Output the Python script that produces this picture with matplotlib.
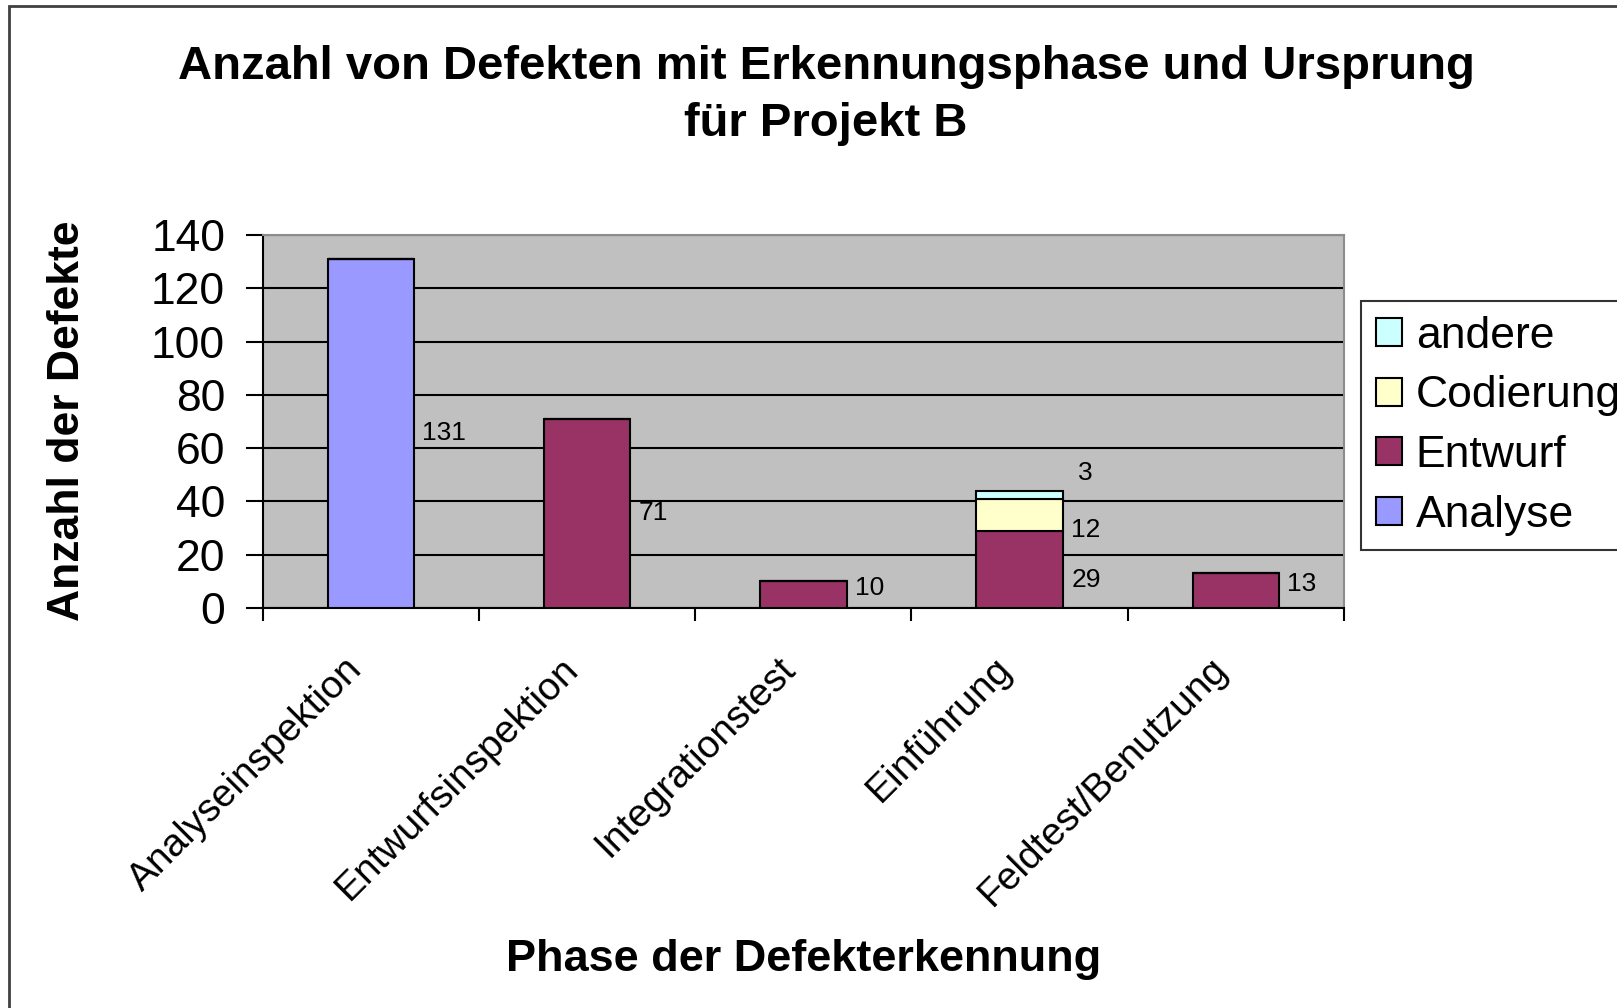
import matplotlib
matplotlib.use("Agg")
import matplotlib.pyplot as plt
import matplotlib.patches as mpatches
from matplotlib.transforms import ScaledTranslation
import numpy as np

plt.rcParams['font.family'] = ['Liberation Sans', 'DejaVu Sans']

categories = ["Analyseinspektion", "Entwurfsinspektion", "Integrationstest",
              "Einführung", "Feldtest/Benutzung"]
analyse = [131, 0, 0, 0, 0]
entwurf = [0, 71, 10, 29, 13]
codierung = [0, 0, 0, 12, 0]
andere = [0, 0, 0, 3, 0]
yticks = [0, 20, 40, 60, 80, 100, 120, 140]

series = [("Analyse", analyse, "#9999FF"),
          ("Entwurf", entwurf, "#993366"),
          ("Codierung", codierung, "#FFFFCC"),
          ("andere", andere, "#CCFFFF")]

W, H = 1617, 1008
fig = plt.figure(figsize=(W / 100, H / 100), dpi=100)
ax = fig.add_axes([262.7 / W, 1 - 608 / H, (1344 - 262.7) / W, (608 - 235) / H])
ax.set_facecolor("#C0C0C0")

x = np.arange(len(categories))
bottom = np.zeros(len(categories))
handles = {}
for name, vals, col in series:
    vals = np.array(vals, dtype=float)
    bars = ax.bar(x, vals, width=0.4, bottom=bottom, color=col,
                  edgecolor="black", linewidth=1.5, zorder=3)
    handles[name] = bars
    for i, v in enumerate(vals):
        if v > 0:
            dx, dy = 6, 0
            if categories[i] == "Einführung":
                if name == "Entwurf":
                    dy = -8
                elif name == "Codierung":
                    dy = -11
                elif name == "andere":
                    dx, dy = 11, 16
            elif v < 20:
                dy = 5
            ax.annotate(f"{int(v)}", xy=(i + 0.2, bottom[i] + v / 2),
                        xytext=(dx, dy), textcoords="offset points",
                        ha="left", va="center", fontsize=19, zorder=5)
    bottom = bottom + vals

ax.set_xlim(-0.5, len(categories) - 0.5)
ax.set_ylim(0, 140)
ax.set_yticks(yticks)
ax.set_yticklabels([str(t) for t in yticks], fontsize=32)
ax.yaxis.grid(True, color="black", linewidth=1.5, zorder=1)
ax.set_axisbelow(True)
ax.tick_params(axis="y", direction="out", length=12, width=1.5, pad=15)

ax.set_xticks(np.arange(-0.5, len(categories), 1.0))
ax.set_xticklabels([])
ax.tick_params(axis="x", direction="out", length=9, width=1.5)
ax.set_xticks(x, minor=True)
ax.set_xticklabels(categories, minor=True, rotation=45, ha="right",
                   va="center", rotation_mode="anchor", fontsize=28)
ax.tick_params(axis="x", which="minor", length=0, pad=40)
shift = ScaledTranslation(-14 / 100, 0, fig.dpi_scale_trans)
for lab in ax.get_xticklabels(minor=True):
    lab.set_transform(lab.get_transform() + shift)

for s in ["left", "bottom"]:
    ax.spines[s].set_color("black")
    ax.spines[s].set_linewidth(1.5)
for s in ["top", "right"]:
    ax.spines[s].set_color("#8C8C8C")
    ax.spines[s].set_linewidth(1.5)

fig.text(826 / W, 1 - 67 / H, "Anzahl von Defekten mit Erkennungsphase und Ursprung",
         ha="center", va="center", fontsize=34, fontweight="bold")
fig.text(826 / W, 1 - 124 / H, "für Projekt B",
         ha="center", va="center", fontsize=34, fontweight="bold")
fig.text(804 / W, 1 - 960 / H, "Phase der Defekterkennung",
         ha="center", va="center", fontsize=32.5, fontweight="bold")
fig.text(68 / W, 1 - 421 / H, "Anzahl der Defekte", rotation=90,
         ha="center", va="center", fontsize=32, fontweight="bold")

order = ["andere", "Codierung", "Entwurf", "Analyse"]
leg = fig.legend([handles[n] for n in order], order,
                 loc="upper left", bbox_to_anchor=(1361 / W, 1 - 301 / H),
                 fontsize=32, frameon=True, fancybox=False, edgecolor="black",
                 handlelength=0.6, handleheight=0.6, handletextpad=0.3,
                 labelspacing=0.42, borderpad=0.33, borderaxespad=0)
leg.get_frame().set_linewidth(1.5)

border = mpatches.Rectangle((9 / W, -0.1), 1.2, 1.1 - 6 / H, transform=fig.transFigure,
                            fill=False, edgecolor="#404040", linewidth=2)
fig.patches.append(border)

fig.savefig("out.png", dpi=100)
